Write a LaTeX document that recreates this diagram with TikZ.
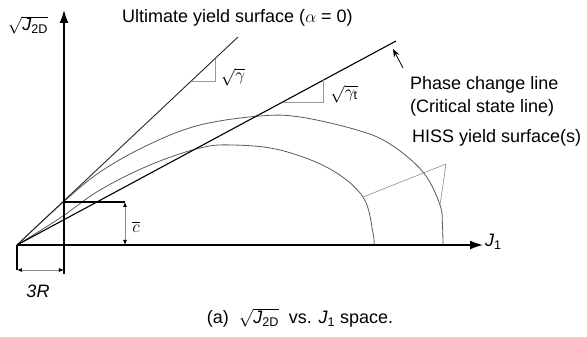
\documentclass[tikz,border=0pt]{standalone}
\usepackage{amsmath}
\usepackage{fontspec}
\setmainfont{Liberation Sans}
\usepackage{tikz}
\usetikzlibrary{arrows.meta,calc}
\newcommand{\sqJtwo}{$\sqrt{\textit{J}_{\text{2D}}}$}
\newcommand{\Jone}{$\textit{J}_{\text{1}}$}
\tikzset{
  axis/.style     = {black, line width=1.4pt,
                     -{Latex[length=13pt,width=9pt]}},
  ultline/.style  = {black!85, line width=0.9pt},
  pcline/.style   = {black, line width=1.1pt},
  hiss/.style     = {black!65, line width=0.8pt},
  slopetri/.style = {black!40, line width=0.6pt},
  boxline/.style  = {black, line width=1.4pt},
  dimline/.style  = {black!45, line width=0.8pt,
                     {Latex[length=5pt,width=4pt,black]}-{Latex[length=5pt,width=4pt,black]}},
  leader/.style   = {black!45, line width=0.6pt},
  callout/.style  = {black, line width=0.8pt, -{Stealth[length=8pt,width=6pt]}},
  lbl/.style      = {inner sep=1pt},
}
\begin{document}
\begin{tikzpicture}[x=1pt, y=1pt, font=\fontsize{18}{21}\selectfont]
  \useasboundingbox (-17,-92) rectangle (570,245);
  % points
  \coordinate (O)      at (0,0);
  \coordinate (yBot)   at (47,-29);
  \coordinate (yTop)   at (47,235);
  \coordinate (xEnd)   at (466,0);
  \coordinate (Cl)     at (47,43);
  \coordinate (Cr)     at (108,43);
  \coordinate (Cb)     at (108,0);
  \coordinate (rL)     at (0,-25);
  \coordinate (rR)     at (47,-25);
  \coordinate (ultEnd) at (221,208);
  \coordinate (pclEnd) at (379,204);
  \coordinate (pclTail) at (386,177);
  \coordinate (pclHead) at (376,196);
  \coordinate (inTip)  at (346,48);
  \coordinate (outTip) at (423,40);
  \coordinate (hub)    at (429,81);

  % HISS yield surfaces
  \draw[hiss] plot[smooth, tension=0.6] coordinates {(0,0) (43,40) (83,73)
    (133,101) (183,120) (243,129) (283,128) (340,115) (373,101) (406,73)
    (423,40) (425.5,18) (426,0)};
  \draw[hiss] plot[smooth, tension=0.6] coordinates {(0,0) (43,27) (83,55)
    (133,80) (183,97) (216,100) (263,95) (313,76) (346,48) (356,12) (357,0)};
  \draw[leader] (inTip) -- (hub) -- (outTip);

  % lines through origin
  \draw[ultline] (O) -- (ultEnd);
  \draw[pcline]  (O) -- (pclEnd);
  \draw[slopetri] ($(O)!0.788!(ultEnd)$) -| ($(O)!0.896!(ultEnd)$);
  \draw[slopetri] ($(O)!0.701!(pclEnd)$) -| ($(O)!0.807!(pclEnd)$);
  \draw[callout] (pclTail) -- (pclHead);

  % axes
  \draw[axis] (yBot) -- (yTop);
  \draw[axis] (O) -- (xEnd);

  % cohesion and 3R
  \draw[boxline] (Cl) -- (Cr);
  \draw[dimline] (Cr) -- (Cb);
  \draw[boxline] (O) -- (rL);
  \draw[dimline] (rL) -- (rR);

  % labels
  \node[lbl] (j2dLbl) at (11,220) {\sqJtwo};
  \node[lbl, anchor=west] (ultLbl) at (104,227)
       {Ultimate yield surface ($\alpha$ = 0)};
  \node[lbl] (gLbl)  at (216,168) {$\sqrt{\gamma}$};
  \node[lbl] (gtLbl) at (327,151) {$\sqrt{\gamma_{\mathrm{t}}}$};
  \node[lbl, anchor=west] (pclLbl)  at (392,160) {Phase change line};
  \node[lbl, anchor=west] (cslLbl)  at (392,137) {(Critical state line)};
  \node[lbl, anchor=west] (hissLbl) at (394,107) {HISS yield surface(s)};
  \node[lbl, anchor=west] (j1Lbl)   at (467,3)   {\Jone};
  \node[lbl] (cLbl) at (119,18) {$\overline{c}$};
  \node[lbl] (rLbl) at (21,-46) {\textit{3R}};
  \node[lbl] (capLbl) at (283,-73) {(a)~ \sqJtwo~ vs. \Jone{} space.};
\end{tikzpicture}
\end{document}
